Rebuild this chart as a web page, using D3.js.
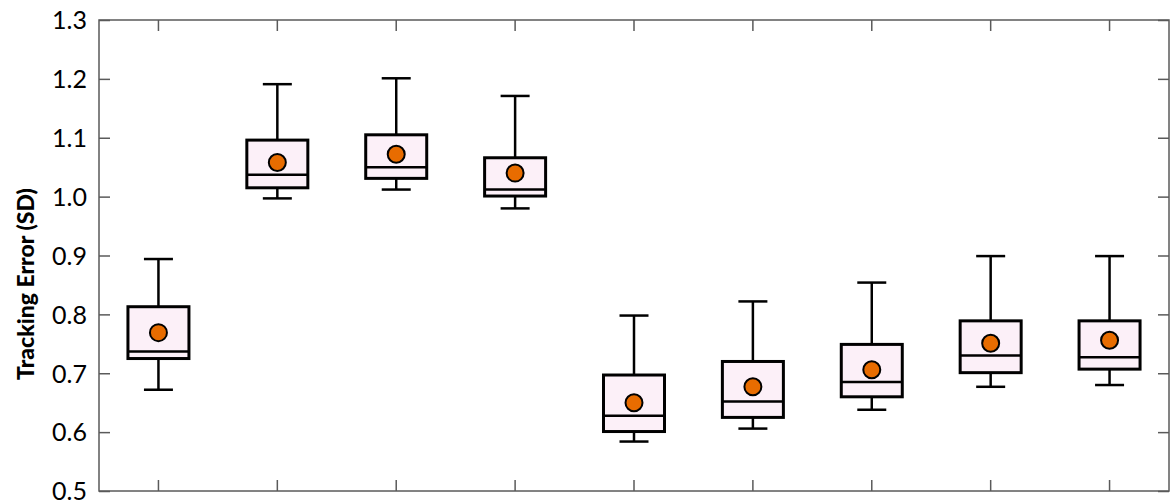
<!DOCTYPE html>
<html>
<head>
<meta charset="utf-8">
<script src="https://cdn.jsdelivr.net/npm/d3@7"></script>
<style>
  body { margin: 0; background: #fff; }
  svg { display: block; }
</style>
</head>
<body>
<div id="chart"></div>
<script>
// data
var groups = ['g1', 'g2', 'g3', 'g4', 'g5', 'g6', 'g7', 'g8', 'g9'];
var whiskerLow  = [0.672, 0.997, 1.012, 0.980, 0.584, 0.606, 0.638, 0.677, 0.680];
var q1          = [0.725, 1.015, 1.031, 1.001, 0.601, 0.625, 0.660, 0.701, 0.707];
var median      = [0.737, 1.037, 1.050, 1.012, 0.628, 0.652, 0.685, 0.730, 0.727];
var q3          = [0.813, 1.096, 1.105, 1.066, 0.697, 0.720, 0.749, 0.789, 0.789];
var whiskerHigh = [0.894, 1.191, 1.201, 1.171, 0.798, 0.822, 0.854, 0.899, 0.899];
var means       = [0.769, 1.058, 1.072, 1.040, 0.650, 0.677, 0.706, 0.751, 0.756];
var yTicks = [0.5, 0.6, 0.7, 0.8, 0.9, 1.0, 1.1, 1.2, 1.3];

var svgWidth = 1173;
var svgHeight = 502;
var margin = { top: 20, right: 4, bottom: 11, left: 99 };
var width = svgWidth - margin.left - margin.right;
var height = svgHeight - margin.top - margin.bottom;

var svg = d3.select('#chart')
  .append('svg')
  .attr('width', svgWidth)
  .attr('height', svgHeight);

var chartGroup = svg.append('g')
  .attr('transform', `translate(${margin.left}, ${margin.top})`);

var x = d3.scaleBand()
  .domain(groups)
  .range([0, width]);

var y = d3.scaleLinear()
  .domain([0.5, 1.3])
  .range([height, 0]);

var boxes = groups.map(function(g, i) {
  return { g: g, lo: whiskerLow[i], q1: q1[i], med: median[i], q3: q3[i], hi: whiskerHigh[i], mean: means[i] };
});

// axes, ticks on all four sides pointing in
var axisColor = '#5a5a5a';
function styleAxis(sel) {
  sel.select('.domain').remove();
  sel.selectAll('.tick line').attr('stroke', axisColor).attr('stroke-width', 1.5);
}

chartGroup.append('g')
  .attr('transform', `translate(0, ${height})`)
  .call(d3.axisBottom(x).tickSize(-11).tickFormat(''))
  .call(styleAxis);

chartGroup.append('g')
  .call(d3.axisTop(x).tickSize(-11).tickFormat(''))
  .call(styleAxis);

chartGroup.append('g')
  .attr('transform', `translate(${width}, 0)`)
  .call(d3.axisRight(y).tickValues(yTicks).tickSize(-11).tickFormat(''))
  .call(styleAxis);

var leftAxis = chartGroup.append('g')
  .call(d3.axisLeft(y).tickValues(yTicks).tickSize(-11).tickFormat(d3.format('.1f')))
  .call(styleAxis);

leftAxis.selectAll('.tick text')
  .attr('x', -12)
  .attr('dy', '0.35em')
  .style('font-family', 'Lato, sans-serif')
  .style('font-size', '25px')
  .style('fill', '#000');

// frame
chartGroup.append('rect')
  .attr('width', width)
  .attr('height', height)
  .attr('fill', 'none')
  .attr('stroke', axisColor)
  .attr('stroke-width', 1.5);

// boxes
var boxW = 61;
var capW = 29;

var elem = chartGroup.selectAll('.box')
  .data(boxes)
  .enter()
  .append('g')
  .attr('class', 'box')
  .attr('transform', function(d) { return 'translate(' + (x(d.g) + x.bandwidth() / 2) + ',0)'; });

// whiskers
elem.append('line')
  .attr('y1', d => y(d.q3)).attr('y2', d => y(d.hi))
  .attr('stroke', '#000').attr('stroke-width', 2.5);
elem.append('line')
  .attr('y1', d => y(d.q1)).attr('y2', d => y(d.lo))
  .attr('stroke', '#000').attr('stroke-width', 2.5);
elem.append('line')
  .attr('x1', -capW / 2).attr('x2', capW / 2)
  .attr('y1', d => y(d.hi)).attr('y2', d => y(d.hi))
  .attr('stroke', '#000').attr('stroke-width', 2.5);
elem.append('line')
  .attr('x1', -capW / 2).attr('x2', capW / 2)
  .attr('y1', d => y(d.lo)).attr('y2', d => y(d.lo))
  .attr('stroke', '#000').attr('stroke-width', 2.5);

elem.append('rect')
  .attr('x', -boxW / 2)
  .attr('width', boxW)
  .attr('y', d => y(d.q3))
  .attr('height', d => y(d.q1) - y(d.q3))
  .attr('fill', '#fcf0f8')
  .attr('stroke', '#000')
  .attr('stroke-width', 3);

elem.append('line')
  .attr('x1', -boxW / 2).attr('x2', boxW / 2)
  .attr('y1', d => y(d.med)).attr('y2', d => y(d.med))
  .attr('stroke', '#000').attr('stroke-width', 2.5);

elem.append('circle')
  .attr('cy', d => y(d.mean))
  .attr('r', 8.5)
  .attr('fill', '#e86c00')
  .attr('stroke', '#000')
  .attr('stroke-width', 2);

// y axis label
svg.append('text')
  .attr('transform', 'translate(34, 284) rotate(-90)')
  .style('text-anchor', 'middle')
  .style('font-family', 'Lato, sans-serif')
  .style('font-weight', '900')
  .style('font-size', '23px')
  .text('Tracking Error (SD)');
</script>
</body>
</html>
